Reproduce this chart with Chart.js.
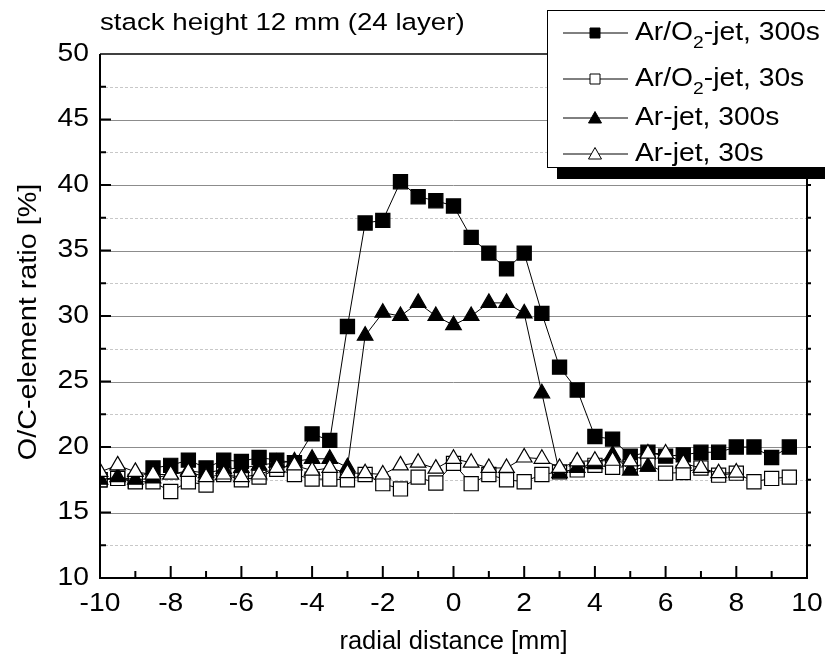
<!DOCTYPE html>
<html>
<head>
<meta charset="utf-8">
<script src="https://cdn.jsdelivr.net/npm/chart.js@4.4.0/dist/chart.umd.min.js"></script>
<style>
  html, body { margin: 0; padding: 0; background: #fff; }
  #wrap { width: 825px; height: 666px; position: relative; }
</style>
</head>
<body>
<div id="wrap"><canvas id="chart" width="825" height="666"></canvas></div>
<script>
// x positions (mm) and O/C ratios (%)
const xFull = [-10, -9.5, -9, -8.5, -8, -7.5, -7, -6.5, -6, -5.5, -5, -4.5, -4, -3.5, -3, -2.5, -2, -1.5, -1, -0.5,
  0, 0.5, 1, 1.5, 2, 2.5, 3, 3.5, 4, 4.5, 5, 5.5, 6, 6.5, 7, 7.5, 8, 8.5, 9, 9.5];
const xArJet30 = [-10, -9.5, -9, -8.5, -8, -7.5, -7, -6.5, -6, -5.5, -5, -4.5, -4, -3.5, -3, -2.5, -2, -1.5, -1, -0.5,
  0, 0.5, 1, 1.5, 2, 2.5, 3, 3.5, 4, 4.5, 5, 5.5, 6, 6.5, 7, 7.5, 8];
const xArJet300 = [-10, -9.5, -9, -8.5, -8, -7.5, -7, -6.5, -6, -5.5, -5, -4.5, -4, -3.5, -3, -2.5, -2, -1.5, -1, -0.5,
  0, 0.5, 1, 1.5, 2, 2.5, 3, 3.5, 4, 4.5, 5, 5.5];

const arO2_300 = [17.5, 17.6, 17.4, 18.4, 18.6, 19.0, 18.4, 19.0, 18.9, 19.2, 19.0, 18.8, 21.0, 20.5, 29.2, 37.1, 37.3, 40.25, 39.1, 38.8,
  38.4, 36.0, 34.8, 33.6, 34.8, 30.2, 26.1, 24.35, 20.8, 20.6, 19.3, 19.6, 19.3, 19.4, 19.6, 19.6, 20.0, 20.0, 19.2, 20.0];
const arO2_30 = [17.5, 17.6, 17.35, 17.35, 16.6, 17.35, 17.1, 17.9, 17.5, 17.7, 18.3, 17.9, 17.55, 17.55, 17.5, 17.9, 17.2, 16.8, 17.7, 17.25,
  18.75, 17.2, 17.9, 17.5, 17.35, 17.9, 18.1, 18.25, 18.6, 18.45, 18.5, 18.7, 18.0, 18.05, 18.4, 17.85, 18.0, 17.35, 17.6, 17.7];
const ar_300 = [17.5, 17.7, 17.5, 17.6, 17.9, 18.2, 18.0, 18.3, 18.4, 18.6, 18.8, 18.9, 19.1, 19.1, 18.45, 28.5, 30.25, 30.0, 31.0, 30.0,
  29.3, 30.0, 31.0, 31.0, 30.2, 24.1, 18.0, 18.4, 18.7, 19.4, 18.2, 18.5];
const ar_30 = [18.1, 18.6, 18.1, 17.9, 17.9, 18.1, 17.7, 17.9, 17.7, 17.9, 18.4, 18.6, 18.2, 18.4, 18.0, 18.0, 17.9, 18.6, 18.8, 18.35,
  19.1, 18.8, 18.4, 18.4, 19.2, 19.1, 18.4, 18.9, 18.95, 18.95, 18.9, 19.5, 19.5, 18.75, 18.4, 18.0, 18.05];

const xTicks = [-10, -8, -6, -4, -2, 0, 2, 4, 6, 8, 10];
const yTicks = [10, 15, 20, 25, 30, 35, 40, 45, 50];

const FONT = "'Liberation Sans', Arial, sans-serif";
const STRETCH = 1.13; // tick and legend lettering is a bit wider than Arial

function pts(xs, ys) {
  return xs.map((x, i) => ({ x: x, y: ys[i] }));
}

// draws text, optionally widened; returns the drawn width
function wideText(ctx, text, x, y, align, size, sx = STRETCH) {
  ctx.save();
  ctx.font = size + "px " + FONT;
  ctx.textBaseline = "middle";
  ctx.textAlign = "left";
  const w = ctx.measureText(text).width * sx;
  let left = x;
  if (align === "center") left = x - w / 2;
  if (align === "right") left = x - w;
  ctx.translate(left, y);
  ctx.scale(sx, 1);
  ctx.fillText(text, 0, 0);
  ctx.restore();
  return w;
}

// grid lines behind the data
const gridPlugin = {
  id: "gridPlugin",
  beforeDatasetsDraw(chart) {
    const { ctx, chartArea: a, scales: { y } } = chart;
    ctx.save();
    for (let v = 12.5; v < 50; v += 2.5) {
      const py = Math.round(y.getPixelForValue(v)) + 0.5;
      const major = v % 5 === 0;
      ctx.beginPath();
      ctx.strokeStyle = major ? "#8c8c8c" : "#c8c8c8";
      ctx.lineWidth = 1;
      ctx.setLineDash(major ? [] : [3, 2]);
      ctx.moveTo(a.left, py);
      ctx.lineTo(a.right, py);
      ctx.stroke();
    }
    ctx.restore();
  }
};

// frame, ticks, labels, titles, legend on top
const framePlugin = {
  id: "framePlugin",
  afterDraw(chart) {
    const { ctx, chartArea: a, scales: { x, y } } = chart;
    ctx.save();
    ctx.strokeStyle = "#000";
    ctx.setLineDash([]);

    // frame
    ctx.lineWidth = 2;
    ctx.beginPath();
    ctx.moveTo(a.left, a.top);
    ctx.lineTo(a.left, a.bottom);
    ctx.lineTo(a.right, a.bottom);
    ctx.lineTo(a.right, a.top);
    ctx.stroke();
    ctx.lineWidth = 1.5;
    ctx.beginPath();
    ctx.moveTo(a.left, a.top);
    ctx.lineTo(a.right, a.top);
    ctx.stroke();

    // x ticks (inward)
    ctx.lineWidth = 2;
    for (let v = -9; v < 10; v++) {
      const px = x.getPixelForValue(v);
      const len = v % 2 === 0 ? 12 : 7;
      ctx.beginPath();
      ctx.moveTo(px, a.bottom);
      ctx.lineTo(px, a.bottom - len);
      ctx.stroke();
    }
    // y ticks (inward on left, short outward on right)
    for (let v = 12.5; v < 50; v += 2.5) {
      const py = y.getPixelForValue(v);
      const len = v % 5 === 0 ? 11 : 6;
      ctx.beginPath();
      ctx.moveTo(a.left, py);
      ctx.lineTo(a.left + len, py);
      ctx.moveTo(a.right, py);
      ctx.lineTo(a.right + 4, py);
      ctx.stroke();
    }

    ctx.fillStyle = "#000";
    // tick labels
    xTicks.forEach(v => wideText(ctx, String(v), x.getPixelForValue(v), a.bottom + 26, "center", 25));
    yTicks.forEach(v => wideText(ctx, String(v), a.left - 11, y.getPixelForValue(v), "right", 25));

    // titles
    wideText(ctx, "stack height 12 mm (24 layer)", 100, 23, "left", 24.5);
    wideText(ctx, "radial distance [mm]", (a.left + a.right) / 2, 642, "center", 25, 1.02);
    ctx.save();
    ctx.translate(29, 322);
    ctx.rotate(-Math.PI / 2);
    wideText(ctx, "O/C-element ratio [%]", 0, 0, "center", 25, 1.15);
    ctx.restore();

    // legend box with shadow
    ctx.fillStyle = "#000";
    ctx.fillRect(557, 168, 280, 11);
    ctx.fillStyle = "#fff";
    ctx.fillRect(547, 10, 290, 158);
    ctx.lineWidth = 1;
    ctx.strokeStyle = "#000";
    ctx.strokeRect(547.5, 10.5, 290, 157);

    const rows = [
      { y: 33, fill: "#000", style: "rect", pre: "Ar/O", sub: "2", post: "-jet, 300s" },
      { y: 79, fill: "#fff", style: "rect", pre: "Ar/O", sub: "2", post: "-jet, 30s" },
      { y: 118, fill: "#000", style: "triangle", pre: "Ar-jet, 300s" },
      { y: 154, fill: "#fff", style: "triangle", pre: "Ar-jet, 30s" }
    ];
    rows.forEach(r => {
      ctx.beginPath();
      ctx.lineWidth = 1;
      ctx.strokeStyle = "#000";
      ctx.moveTo(563, r.y);
      ctx.lineTo(628, r.y);
      ctx.stroke();
      ctx.fillStyle = r.fill;
      ctx.beginPath();
      if (r.style === "rect") {
        ctx.rect(590, r.y - 5, 10, 10);
      } else {
        ctx.moveTo(595, r.y - 6.5);
        ctx.lineTo(601.5, r.y + 5);
        ctx.lineTo(588.5, r.y + 5);
        ctx.closePath();
      }
      ctx.fill();
      ctx.stroke();

      ctx.fillStyle = "#000";
      let tx = 635;
      tx += wideText(ctx, r.pre, tx, r.y, "left", 25);
      if (r.sub) {
        tx += wideText(ctx, r.sub, tx, r.y + 10, "left", 17);
        wideText(ctx, r.post, tx, r.y, "left", 25);
      }
    });
    ctx.restore();
  }
};

const line = { borderColor: "#000", borderWidth: 1, pointBorderColor: "#000", pointBorderWidth: 1.2, tension: 0 };

new Chart(document.getElementById("chart"), {
  type: "line",
  data: {
    datasets: [
      { ...line, label: "Ar/O2-jet, 300s", data: pts(xFull, arO2_300), pointStyle: "rect", pointRadius: 10,
        pointBackgroundColor: "#000", order: 4 },
      { ...line, label: "Ar/O2-jet, 30s", data: pts(xFull, arO2_30), pointStyle: "rect", pointRadius: 10,
        pointBackgroundColor: "#fff", order: 3 },
      { ...line, label: "Ar-jet, 300s", data: pts(xArJet300, ar_300), pointStyle: "triangle", pointRadius: 9,
        pointBackgroundColor: "#000", order: 2 },
      { ...line, label: "Ar-jet, 30s", data: pts(xArJet30, ar_30), pointStyle: "triangle", pointRadius: 9,
        pointBackgroundColor: "#fff", order: 1 }
    ]
  },
  options: {
    responsive: false,
    animation: false,
    layout: { padding: { top: 54, right: 18, bottom: 0, left: 0 } },
    plugins: { legend: { display: false }, tooltip: { enabled: false } },
    scales: {
      x: {
        type: "linear",
        min: -10, max: 10,
        afterFit(s) { s.height = 88; },
        afterBuildTicks(s) { s.ticks = xTicks.map(v => ({ value: v })); },
        grid: { display: false, drawTicks: false },
        border: { display: false },
        ticks: { display: false }
      },
      y: {
        min: 10, max: 50,
        afterFit(s) { s.width = 100; },
        afterBuildTicks(s) { s.ticks = yTicks.map(v => ({ value: v })); },
        grid: { display: false, drawTicks: false },
        border: { display: false },
        ticks: { display: false }
      }
    }
  },
  plugins: [gridPlugin, framePlugin]
});
</script>
</body>
</html>
